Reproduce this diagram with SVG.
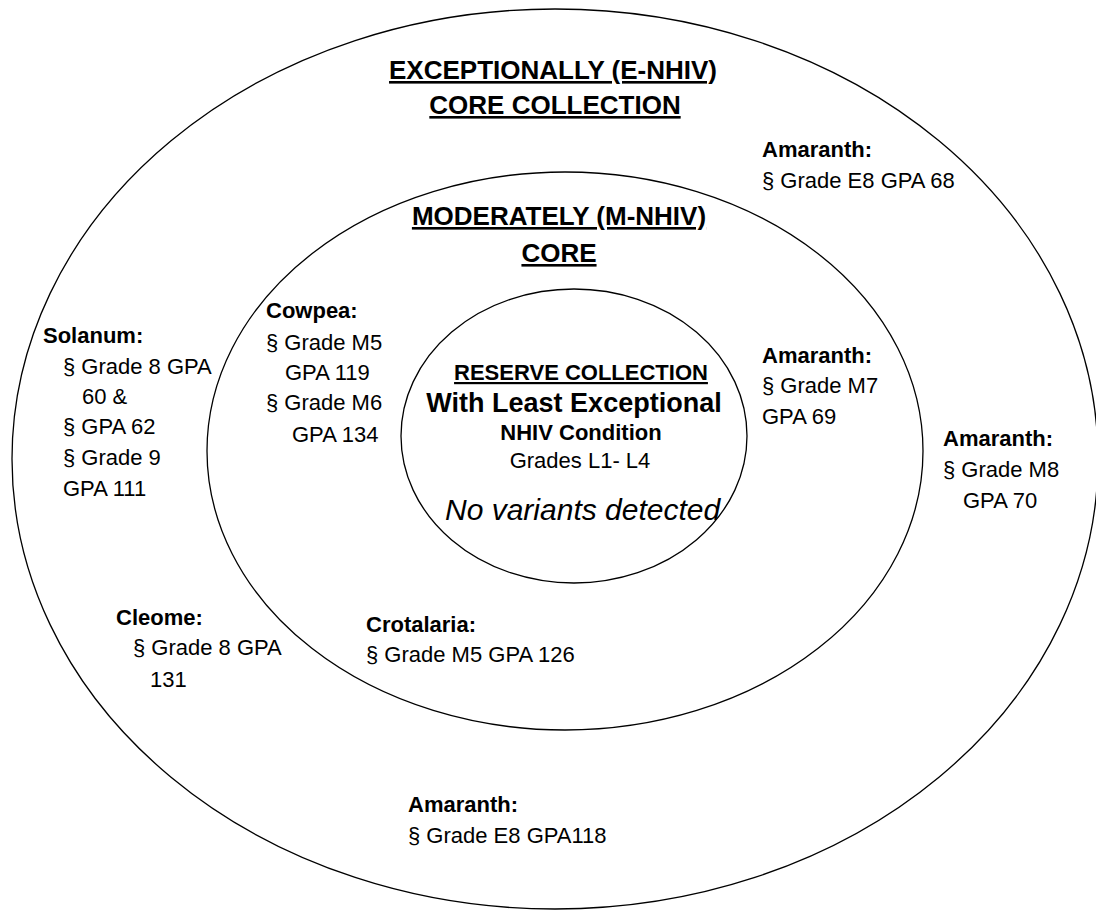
<svg xmlns="http://www.w3.org/2000/svg" width="1096" height="912" viewBox="0 0 1096 912">
<style>
text{font-family:"Liberation Sans",Arial,sans-serif;fill:#000}
.b{font-weight:bold}
.u{text-decoration:underline}
.t{font-size:26px}
.l{font-size:22px}
.ring{fill:none;stroke:#000;stroke-width:1.3}
</style>
<defs>
<clipPath id="innerClip"><ellipse cx="574" cy="436" rx="173" ry="147"/></clipPath>
</defs>
<rect width="1096" height="912" fill="#fff"/>
<g id="outer-ring">
<ellipse class="ring" cx="555" cy="459" rx="543" ry="450"/>
<text class="t b u" x="553" y="79" text-anchor="middle">EXCEPTIONALLY (E-NHIV)</text>
<text class="t b u" x="555" y="114" text-anchor="middle">CORE COLLECTION</text>
</g>
<g id="middle-ring">
<ellipse class="ring" cx="565" cy="451" rx="358" ry="279"/>
<text class="t b u" x="559" y="225" text-anchor="middle">MODERATELY (M-NHIV)</text>
<text class="t b u" x="559" y="262" text-anchor="middle">CORE</text>
</g>
<g id="inner-ring">
<ellipse class="ring" cx="574" cy="436" rx="173" ry="147"/>
<text class="l b u" x="581" y="380" text-anchor="middle">RESERVE COLLECTION</text>
<text class="b" x="574" y="412" text-anchor="middle" font-size="27">With Least Exceptional</text>
<text class="l b" x="581" y="440" text-anchor="middle">NHIV Condition</text>
<text class="l" x="580" y="468" text-anchor="middle">Grades L1- L4</text>
<text x="445" y="520" font-size="30" font-style="italic" clip-path="url(#innerClip)">No variants detected</text>
</g>
<g id="amaranth-e8-68">
<text class="l b" x="762" y="157">Amaranth:</text>
<text class="l" x="762" y="188">§ Grade E8 GPA 68</text>
</g>
<g id="solanum">
<text class="l b" x="43" y="343">Solanum:</text>
<text class="l" x="63" y="374">§ Grade 8 GPA</text>
<text class="l" x="82" y="404">60 &amp;</text>
<text class="l" x="63" y="434">§ GPA 62</text>
<text class="l" x="63" y="465">§ Grade 9</text>
<text class="l" x="63" y="496">GPA 111</text>
</g>
<g id="cowpea">
<text class="l b" x="266" y="318">Cowpea:</text>
<text class="l" x="266" y="350">§ Grade M5</text>
<text class="l" x="285" y="380">GPA 119</text>
<text class="l" x="266" y="410">§ Grade M6</text>
<text class="l" x="292" y="442">GPA 134</text>
</g>
<g id="amaranth-m7">
<text class="l b" x="762" y="363">Amaranth:</text>
<text class="l" x="762" y="393">§ Grade M7</text>
<text class="l" x="762" y="424">GPA 69</text>
</g>
<g id="amaranth-m8">
<text class="l b" x="943" y="446">Amaranth:</text>
<text class="l" x="943" y="477">§ Grade M8</text>
<text class="l" x="963" y="508">GPA 70</text>
</g>
<g id="cleome">
<text class="l b" x="116" y="625">Cleome:</text>
<text class="l" x="133" y="655">§ Grade 8 GPA</text>
<text class="l" x="150" y="687">131</text>
</g>
<g id="crotalaria">
<text class="l b" x="366" y="632">Crotalaria:</text>
<text class="l" x="366" y="662">§ Grade M5 GPA 126</text>
</g>
<g id="amaranth-e8-118">
<text class="l b" x="408" y="812">Amaranth:</text>
<text class="l" x="408" y="843">§ Grade E8 GPA118</text>
</g>
<g id="connectors"></g>
</svg>
